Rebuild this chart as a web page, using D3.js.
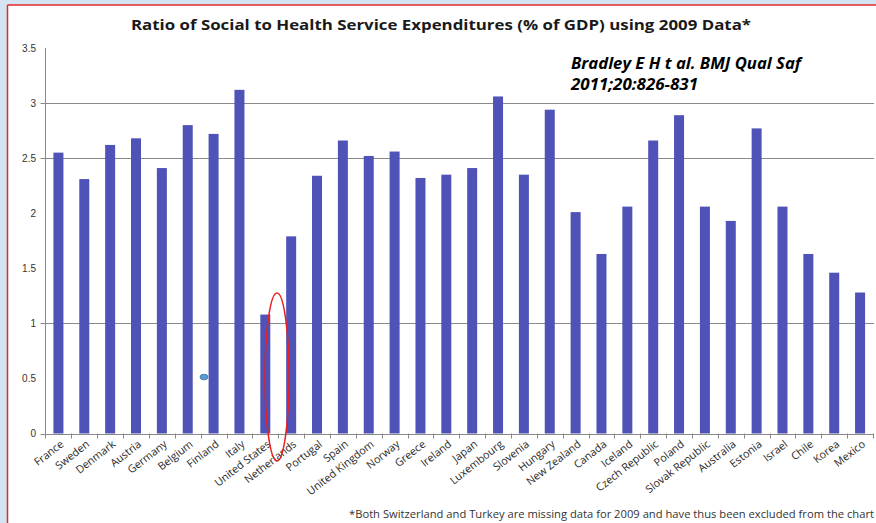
<!DOCTYPE html>
<html><head><meta charset="utf-8">
<script src="https://cdn.jsdelivr.net/npm/d3@7"></script>
<style>
html,body{margin:0;padding:0;background:#d5e4f2;}
svg{display:block;}
</style></head>
<body>
<svg id="chart" width="876" height="523"></svg>
<script>
const countries = ["France","Sweden","Denmark","Austria","Germany","Belgium","Finland","Italy","United States","Netherlands","Portugal","Spain","United Kingdom","Norway","Greece","Ireland","Japan","Luxembourg","Slovenia","Hungary","New Zealand","Canada","Iceland","Czech Republic","Poland","Slovak Republic","Australia","Estonia","Israel","Chile","Korea","Mexico"];
const ratios = [2.55,2.31,2.62,2.68,2.41,2.80,2.72,3.12,1.08,1.79,2.34,2.66,2.52,2.56,2.32,2.35,2.41,3.06,2.35,2.94,2.01,1.63,2.06,2.66,2.89,2.06,1.93,2.77,2.06,1.63,1.46,1.28];
const yTickValues = [0,0.5,1,1.5,2,2.5,3,3.5];
const yTickLabels = ["0","0.5","1","1.5","2","2.5","3","3.5"];
const gridValues = [1,2.5,3];
const titleText = "Ratio of Social to Health Service Expenditures (% of GDP) using 2009 Data*";
const citeLines = ["Bradley E H t al. BMJ Qual Saf","2011;20:826-831"];
const footnote = "*Both Switzerland and Turkey are missing data for 2009 and have thus been excluded from the chart";

(function(){
const svg = d3.select("#chart");
svg.append("rect").attr("x",8).attr("y",5).attr("width",868).attr("height",518).attr("fill","#ffffff");
svg.append("line").attr("x1",7.5).attr("x2",876).attr("y1",5).attr("y2",5).attr("stroke","#e02a2a").attr("stroke-width",1.5);
svg.append("line").attr("x1",7.5).attr("x2",7.5).attr("y1",5).attr("y2",523).attr("stroke","#e02a2a").attr("stroke-width",1.5);

const pl = 45.5, pr = 873, pt = 48, pb = 433.5;
const xb = d3.scaleBand().domain(countries).range([pl, pr]).padding(0);
const y = d3.scaleLinear().domain([0,3.5]).range([pb, pt]);

svg.append("g").selectAll("line").data(gridValues).join("line")
  .attr("x1",pl-5).attr("x2",874).attr("y1",d=>Math.round(y(d))+0.5).attr("y2",d=>Math.round(y(d))+0.5)
  .attr("stroke","#8a8a8a").attr("stroke-width",1);

const bw = 10;
svg.append("g").selectAll("rect").data(countries).join("rect")
  .attr("x",(d)=>xb(d)+xb.bandwidth()/2 - bw/2)
  .attr("y",(d,i)=>y(ratios[i]))
  .attr("width",bw)
  .attr("height",(d,i)=>y(0)-y(ratios[i]))
  .attr("fill","#4f52b6");

svg.append("line").attr("x1",pl).attr("x2",pl).attr("y1",pt).attr("y2",pb+5).attr("stroke","#8a8a8a");
svg.append("line").attr("x1",pl-5).attr("x2",874).attr("y1",Math.round(pb)+0.5).attr("y2",Math.round(pb)+0.5).attr("stroke","#8a8a8a");
const bounds = countries.map(d=>xb(d)).concat([pr]);
svg.append("g").selectAll("line").data(bounds.slice(1)).join("line")
  .attr("x1",d=>Math.round(d)+0.5).attr("x2",d=>Math.round(d)+0.5)
  .attr("y1",pb).attr("y2",pb+5).attr("stroke","#8a8a8a");

svg.append("g").selectAll("text").data(yTickValues).join("text")
  .attr("x",36).attr("y",d=>y(d)+3.5).attr("text-anchor","end")
  .attr("font-family","Liberation Sans, Arial, sans-serif").attr("font-size",10).attr("fill","#333")
  .text((d,i)=>yTickLabels[i]);

svg.append("g").selectAll("text").data(countries).join("text")
  .attr("transform",d=>`translate(${xb(d)+xb.bandwidth()/2+6},${pb+12}) rotate(-38)`)
  .attr("text-anchor","end")
  .attr("font-family","Open Sans, sans-serif").attr("font-size",10.8).attr("fill","#2a2a2a")
  .text(d=>d);

svg.append("text").attr("x",131).attr("y",30).attr("textLength",620).attr("lengthAdjust","spacingAndGlyphs")
  .attr("font-family","Open Sans, sans-serif").attr("font-weight","bold").attr("font-size",15).attr("fill","#1a1a1a")
  .text(titleText);

svg.append("g").selectAll("text").data(citeLines).join("text")
  .attr("x",571).attr("y",(d,i)=>69+i*21)
  .attr("textLength",(d,i)=>i===0?230:127).attr("lengthAdjust","spacingAndGlyphs")
  .attr("font-family","Open Sans, sans-serif").attr("font-weight","bold").attr("font-style","italic").attr("font-size",16).attr("fill","#000")
  .text(d=>d);

svg.append("text").attr("x",349).attr("y",518).attr("textLength",525).attr("lengthAdjust","spacingAndGlyphs")
  .attr("font-family","Open Sans, sans-serif").attr("font-size",10).attr("fill","#333")
  .text(footnote);

svg.append("ellipse").attr("cx",277).attr("cy",377).attr("rx",12).attr("ry",84)
  .attr("fill","none").attr("stroke","#e8201e").attr("stroke-width",1.5);
svg.append("ellipse").attr("cx",204).attr("cy",377).attr("rx",4).attr("ry",2.8)
  .attr("fill","#5b9bd5").attr("stroke","#3d6f9e").attr("stroke-width",0.8);
})();
</script>
</body></html>
